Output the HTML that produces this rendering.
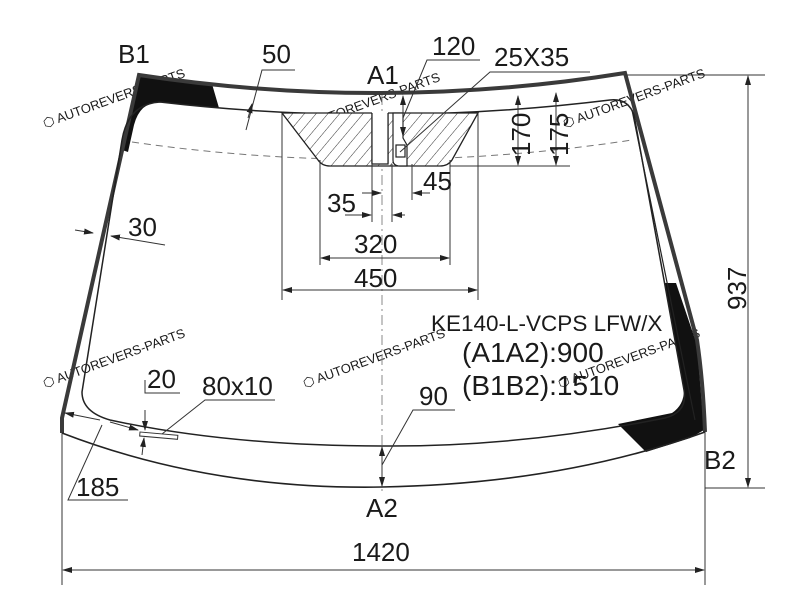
<!DOCTYPE html>
<html><head><meta charset="utf-8"><style>
html,body{margin:0;padding:0;background:#fff;}
svg{display:block;}
text{font-family:"Liberation Sans",sans-serif;fill:#1a1a1a;}
.wm{fill:#a8d0ec;font-size:13px;}
</style></head><body>
<svg width="800" height="600" viewBox="0 0 800 600" xmlns="http://www.w3.org/2000/svg">
<defs>
<pattern id="h" width="9" height="9" patternUnits="userSpaceOnUse" patternTransform="rotate(40)">
<rect width="9" height="9" fill="#fff"/><line x1="0" y1="0" x2="0" y2="9" stroke="#333" stroke-width="1"/>
</pattern>
<marker id="a" markerWidth="10" markerHeight="8" refX="9" refY="4" orient="auto" markerUnits="userSpaceOnUse">
<path d="M0,1 L10,4 L0,7 Z" fill="#222"/></marker>
<marker id="b" markerWidth="10" markerHeight="8" refX="1" refY="4" orient="auto" markerUnits="userSpaceOnUse">
<path d="M10,1 L0,4 L10,7 Z" fill="#222"/></marker>
</defs>

<g class="wm">
<text x="45" y="128" transform="rotate(-20 45 128)">⬡ AUTOREVERS-PARTS</text>
<text x="300" y="132" transform="rotate(-20 300 132)">⬡ AUTOREVERS-PARTS</text>
<text x="565" y="128" transform="rotate(-20 565 128)">⬡ AUTOREVERS-PARTS</text>
<text x="45" y="388" transform="rotate(-20 45 388)">⬡ AUTOREVERS-PARTS</text>
<text x="305" y="388" transform="rotate(-20 305 388)">⬡ AUTOREVERS-PARTS</text>
<text x="560" y="388" transform="rotate(-20 560 388)">⬡ AUTOREVERS-PARTS</text>
</g>

<path d="M139,76 L212,84 L219,108 L160,102 Q140,102 134,125 L128,152 L122,150 Z" fill="#111"/>
<path d="M665,283 L676,283 L697,345 L704,430 L690,438 L646,452 L618,424 L672,413 Q684,405 684,390 Z" fill="#111"/>

<path d="M62,433 L62,418 L139,75 Q382,112 625,73 L697,340 Q703,380 705,432" fill="none" stroke="#3a3a3a" stroke-width="4"/>
<path d="M62,433 Q210,490 382,487 Q560,484 705,432" fill="none" stroke="#222" stroke-width="1.6"/>
<path d="M160,102 Q382,128 610,100 Q628,98 634,115 L684,390 Q688,412 665,418 Q520,447 382,446 Q230,446 110,420 Q82,412 82,392 L122,140 Q128,104 160,102" fill="none" stroke="#222" stroke-width="1.5"/>
<path d="M695,420 L632,110" stroke="#222" stroke-width="1.2"/>

<path d="M132,142 Q382,178 632,140" fill="none" stroke="#777" stroke-width="1" stroke-dasharray="7,5"/>
<line x1="382" y1="95" x2="382" y2="492" stroke="#888" stroke-width="1" stroke-dasharray="10,4,2,4"/>

<path d="M282,113 L372,113 L372,163 L388,163 L388,113 L478,113 L452,160 Q448,166 440,166 L330,166 Q322,166 318,160 Z" fill="url(#h)" stroke="#222" stroke-width="1.3"/>
<rect x="372" y="112" width="16" height="52" fill="#fff"/>
<path d="M372,113 L372,164 L388,164 L388,113" fill="none" stroke="#222" stroke-width="1.2"/>
<path d="M393,113 L393,160 Q393,166 400,166 L407,166 L407,145 L403,138 L403,113 Z" fill="#fff" stroke="#222" stroke-width="1.2"/>
<rect x="396" y="145" width="9" height="12" fill="#fff" stroke="#222" stroke-width="1.2"/>

<g stroke="#333" stroke-width="1" fill="none">
<line x1="282" y1="113" x2="282" y2="300"/>
<line x1="320" y1="160" x2="320" y2="265"/>
<line x1="450" y1="160" x2="450" y2="265"/>
<line x1="478" y1="113" x2="478" y2="300"/>
<line x1="372" y1="164" x2="372" y2="222"/>
<line x1="392" y1="164" x2="392" y2="222"/>
<line x1="412" y1="164" x2="412" y2="200"/>
<line x1="450" y1="166" x2="570" y2="166"/>
<line x1="283" y1="290" x2="477" y2="290" marker-start="url(#b)" marker-end="url(#a)"/>
<line x1="321" y1="258" x2="449" y2="258" marker-start="url(#b)" marker-end="url(#a)"/>
<line x1="345" y1="215" x2="371" y2="215" marker-end="url(#a)"/>
<line x1="405" y1="215" x2="393" y2="215" marker-end="url(#a)"/>
<line x1="362" y1="193" x2="381" y2="193" marker-end="url(#a)"/>
<line x1="430" y1="193" x2="413" y2="193" marker-end="url(#a)"/>
<line x1="518" y1="96" x2="518" y2="165" marker-start="url(#b)" marker-end="url(#a)"/>
<line x1="556" y1="93" x2="556" y2="165" marker-start="url(#b)" marker-end="url(#a)"/>
<line x1="403" y1="96" x2="403" y2="136" marker-start="url(#b)" marker-end="url(#a)"/>
<line x1="625" y1="75" x2="765" y2="75"/>
<line x1="705" y1="488" x2="765" y2="488"/>
<line x1="748" y1="76" x2="748" y2="487" marker-start="url(#b)" marker-end="url(#a)"/>
<line x1="62" y1="433" x2="62" y2="585"/>
<line x1="705" y1="432" x2="705" y2="585"/>
<line x1="63" y1="570" x2="704" y2="570" marker-start="url(#b)" marker-end="url(#a)"/>
<line x1="382" y1="447" x2="382" y2="486" marker-start="url(#b)" marker-end="url(#a)"/>
<polyline points="382,465 413,410 455,410"/>
<polyline points="246,130 262,70 295,70"/>
<line x1="248" y1="118" x2="252" y2="104" marker-end="url(#a)"/>
<polyline points="403,118 427,60 480,60"/>
<polyline points="400,152 490,72 590,72"/>
<line x1="75" y1="230" x2="93" y2="233" marker-end="url(#a)"/>
<line x1="165" y1="245" x2="111" y2="236" marker-end="url(#a)"/>
<polyline points="145,380 145,393 180,393"/>
<line x1="145" y1="410" x2="145" y2="430" marker-end="url(#a)"/>
<line x1="142" y1="455" x2="144" y2="438" marker-end="url(#a)"/>
<polyline points="162,434 205,400 275,400"/>
<rect x="140" y="432" width="38" height="4" transform="rotate(5 140 432)"/>
<line x1="100" y1="420" x2="65" y2="413" marker-end="url(#a)"/>
<line x1="110" y1="422" x2="138" y2="430" marker-end="url(#a)"/>
<polyline points="102,425 68,500 128,500"/>
</g>

<g font-size="26">
<text x="118" y="63">B1</text>
<text x="262" y="63">50</text>
<text x="432" y="55">120</text>
<text x="494" y="66">25X35</text>
<text x="367" y="84">A1</text>
<text x="423" y="190">45</text>
<text x="327" y="212">35</text>
<text x="354" y="253">320</text>
<text x="354" y="287">450</text>
<text x="128" y="236">30</text>
<text x="147" y="388">20</text>
<text x="202" y="395">80x10</text>
<text x="419" y="405">90</text>
<text x="76" y="496">185</text>
<text x="366" y="517">A2</text>
<text x="704" y="469">B2</text>
<text x="352" y="561">1420</text>
<text transform="translate(530,156) rotate(-90)">170</text>
<text transform="translate(568,156) rotate(-90)">175</text>
<text transform="translate(746,310) rotate(-90)">937</text>
<text x="431" y="331" font-size="22.5">KE140-L-VCPS LFW/X</text>
<text x="462" y="362" font-size="28">(A1A2):900</text>
<text x="462" y="395" font-size="28">(B1B2):1510</text>
</g>
</svg>
</body></html>
